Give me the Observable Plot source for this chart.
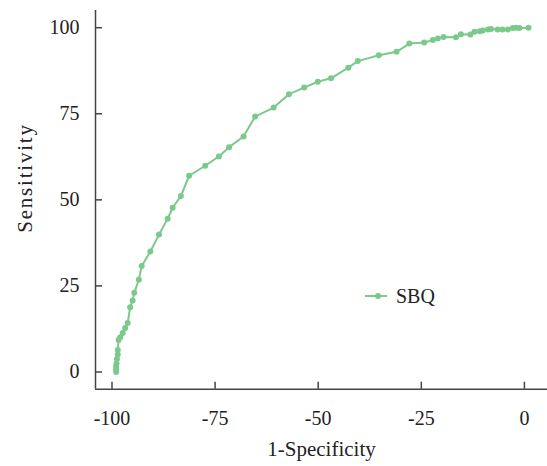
<!DOCTYPE html>
<html>
<head>
<meta charset="utf-8">
<script src="https://cdn.jsdelivr.net/npm/d3@7"></script>
<script src="https://cdn.jsdelivr.net/npm/@observablehq/plot@0.6"></script>
<style>
  html, body { margin: 0; padding: 0; background: #fff; }
  #wrap { position: relative; width: 547px; height: 466px; }
  #legend { position: absolute; left: 363px; top: 284px; display: flex; align-items: center;
            font-family: "Liberation Serif", "Times New Roman", serif; font-size: 20px; color: #222; }
</style>
</head>
<body>
<div id="wrap"><div id="chart"></div>
<div id="legend"><svg width="28" height="24" style="margin-right:5px"><line x1="2" x2="24" y1="12" y2="12" stroke="#7cc98c" stroke-width="2"/><circle cx="15" cy="12" r="3" fill="#7cc98c"/></svg><span>SBQ</span></div>
</div>
<script>
const seriesName = "SBQ";
const fpr = [-99.0,-99.0,-99.0,-98.9,-98.8,-98.6,-98.6,-98.4,-98.0,-97.4,-96.8,-96.2,-95.6,-95.0,-94.6,-93.5,-92.8,-90.7,-88.6,-86.5,-85.3,-83.3,-81.3,-77.4,-74.1,-71.6,-68.1,-65.3,-60.8,-57.1,-53.4,-50.1,-46.9,-42.7,-40.4,-35.3,-31.0,-27.9,-24.3,-22.2,-21.0,-19.6,-16.6,-15.4,-13.1,-12.1,-10.8,-10.1,-8.8,-8.1,-6.5,-5.3,-4.0,-2.8,-2.0,-1.2,1.0];
const sens = [0,0.8,1.7,2.5,3.8,5.1,6.4,9.3,10.1,11.3,12.8,14.2,18.8,20.8,23.0,26.8,30.8,35.0,39.9,44.5,47.7,51.1,57.0,59.9,62.6,65.3,68.4,74.2,76.8,80.7,82.6,84.3,85.3,88.4,90.3,92.0,93.0,95.4,95.7,96.4,96.9,97.3,97.2,98.1,98.0,98.8,99.0,99.2,99.5,99.6,99.5,99.5,99.5,99.9,100,99.9,100];
const xTicks = [-100,-75,-50,-25,0];
const yTicks = [0,25,50,75,100];
const xLabel = "1-Specificity";
const yLabel = "Sensitivity";

const data = fpr.map((x, i) => ({x, y: sens[i]}));
const green = "#7cc98c";
const axisColor = "#444";
const font = "Liberation Serif, Times New Roman, serif";
const W = 547, H = 466, mL = 95, mR = 0, mT = 10, mB = 77.3;
const frameW = W - mL - mR, frameH = H - mT - mB;

const chart = Plot.plot({
  width: W, height: H,
  marginLeft: mL, marginRight: mR, marginTop: mT, marginBottom: mB,
  style: {fontFamily: font, fontSize: "20px", color: "#222", background: "#fff"},
  x: {domain: [-104, 5.6], axis: null},
  y: {domain: [-5, 105], axis: null},
  marks: [
    Plot.axisX({ticks: xTicks, tickFormat: d => String(d), tickSize: 0, tickPadding: 22, label: null, fontSize: 20, fill: "#222"}),
    Plot.axisY({ticks: yTicks, tickFormat: d => String(d), tickSize: 0, tickPadding: 16, label: null, fontSize: 20, fill: "#222"}),
    Plot.tickX(xTicks, {x: d => d, stroke: axisColor, strokeWidth: 1.5, insetTop: frameH - 7}),
    Plot.tickY(yTicks, {y: d => d, stroke: axisColor, strokeWidth: 1.5, insetRight: frameW - 7}),
    Plot.ruleY([-5], {stroke: axisColor, strokeWidth: 1.5}),
    Plot.ruleX([-104], {stroke: axisColor, strokeWidth: 1.5}),
    Plot.line(data, {x: "x", y: "y", stroke: green, strokeWidth: 2}),
    Plot.dot(data, {x: "x", y: "y", r: 3, fill: green, stroke: null}),
    Plot.text([xLabel], {text: d => d, frameAnchor: "bottom", dy: 67, fontSize: 21, fill: "#222"}),
    Plot.text([yLabel], {text: d => d, frameAnchor: "left", dx: -70, dy: 33, rotate: -90, fontSize: 21, fill: "#222"})
  ]
});
d3.select(chart).selectAll("text").filter(function() { return this.textContent === yLabel; })
  .style("letter-spacing", "1.8px");
document.getElementById("chart").appendChild(chart);
</script>
</body>
</html>
